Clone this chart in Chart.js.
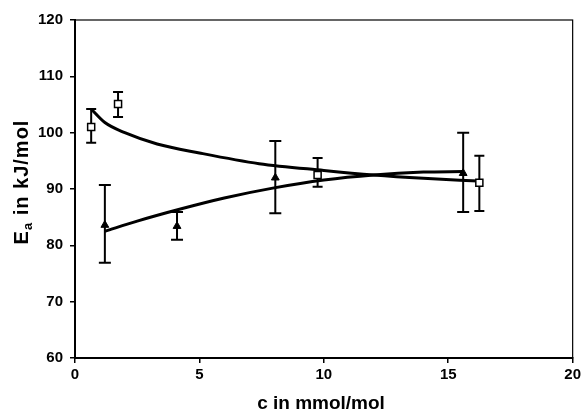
<!DOCTYPE html>
<html>
<head>
<meta charset="utf-8">
<script src="https://cdn.jsdelivr.net/npm/chart.js@4/dist/chart.umd.min.js"></script>
<style>
  html, body { margin: 0; padding: 0; background: #fff; }
  #wrap { width: 584px; height: 417px; }
</style>
</head>
<body>
<div id="wrap"><canvas id="eaChart"></canvas></div>
<script>
// Messpunkte (offene Quadrate)
const squareX = [0.65, 1.73, 9.75, 16.25];
const squareY = [101.0, 105.1, 92.5, 91.1];
const squareLow = [98.2, 102.8, 90.4, 86.1];
const squareHigh = [104.2, 107.2, 95.5, 95.9];

// Messpunkte (gefuellte Dreiecke)
const triX = [1.2, 4.1, 8.05, 15.6];
const triY = [83.6, 83.4, 92.0, 92.8];
const triLow = [76.9, 81.0, 85.7, 85.9];
const triHigh = [90.7, 85.9, 98.5, 100.0];

// Trendlinien
const squareFitX = [0.65, 1.2, 2.0, 3.3, 5, 7.4, 10, 12, 14, 16.2];
const squareFitY = [104.2, 101.8, 100.0, 98.0, 96.4, 94.5, 93.3, 92.5, 91.9, 91.4];
const triFitX = [1.2, 2.5, 4.2, 6, 8, 10, 12, 14, 15.6];
const triFitY = [82.5, 84.3, 86.4, 88.4, 90.2, 91.6, 92.5, 93.0, 93.1];

// Achsen
const xTicks = [0, 5, 10, 15, 20];
const yTicks = [60, 70, 80, 90, 100, 110, 120];
const xTitle = 'c in mmol/mol';
const yTitleMain = 'E';
const yTitleSub = 'a';
const yTitleRest = ' in kJ/mol';

const FONT = "'Liberation Sans', Arial, sans-serif";
const toPoints = (xs, ys) => xs.map((x, i) => ({ x, y: ys[i] }));

// Fehlerbalken zeichnen
const errorBars = {
  id: 'errorBars',
  beforeDatasetsDraw(chart) {
    const { ctx, scales: { x, y } } = chart;
    ctx.save();
    ctx.strokeStyle = '#000';
    ctx.lineWidth = 2;
    chart.data.datasets.forEach(ds => {
      if (!ds.errLow) return;
      ds.data.forEach((p, i) => {
        const px = x.getPixelForValue(p.x);
        const top = y.getPixelForValue(ds.errHigh[i]);
        const bot = y.getPixelForValue(ds.errLow[i]);
        ctx.beginPath();
        ctx.moveTo(px, top);
        ctx.lineTo(px, bot);
        ctx.moveTo(px - ds.capHalf, top);
        ctx.lineTo(px + ds.capHalf, top);
        ctx.moveTo(px - ds.capHalf, bot);
        ctx.lineTo(px + ds.capHalf, bot);
        ctx.stroke();
      });
    });
    ctx.restore();
  }
};

// Rahmen und Achsentitel
const frameAndTitles = {
  id: 'frameAndTitles',
  afterDraw(chart) {
    const { ctx, chartArea: a } = chart;
    ctx.save();
    ctx.strokeStyle = '#000';
    ctx.lineWidth = 1.2;
    ctx.strokeRect(a.left, a.top, a.right - a.left, a.bottom - a.top);

    ctx.fillStyle = '#000';
    ctx.textAlign = 'center';
    ctx.textBaseline = 'middle';
    ctx.font = 'bold 19px ' + FONT;
    ctx.fillText(xTitle, 321, 404);

    // y-Titel mit Index
    const big = 'bold 20px ' + FONT;
    const small = 'bold 13px ' + FONT;
    ctx.letterSpacing = '1px';
    ctx.font = big;
    const wE = ctx.measureText(yTitleMain).width;
    const wR = ctx.measureText(yTitleRest).width;
    ctx.font = small;
    const wA = ctx.measureText(yTitleSub).width;
    const total = wE + wA + wR;
    ctx.translate(28, 182);
    ctx.rotate(-Math.PI / 2);
    ctx.textAlign = 'left';
    ctx.textBaseline = 'alphabetic';
    let cx = -total / 2;
    ctx.font = big;
    ctx.fillText(yTitleMain, cx, 0);
    cx += wE;
    ctx.font = small;
    ctx.fillText(yTitleSub, cx, 4);
    cx += wA;
    ctx.font = big;
    ctx.fillText(yTitleRest, cx, 0);
    ctx.restore();
  }
};

const ctx = document.getElementById('eaChart').getContext('2d');
const eaChart = new Chart(ctx, {
  type: 'scatter',
  data: {
    datasets: [
      {
        label: 'squares',
        data: toPoints(squareX, squareY),
        errLow: squareLow,
        errHigh: squareHigh,
        capHalf: 5,
        pointStyle: 'rect',
        pointRadius: 5,
        pointBackgroundColor: '#fff',
        pointBorderColor: '#000',
        pointBorderWidth: 1.5,
        showLine: false,
        order: 0,
      },
      {
        label: 'triangles',
        data: toPoints(triX, triY),
        errLow: triLow,
        errHigh: triHigh,
        capHalf: 6,
        pointStyle: 'triangle',
        pointRadius: 4.5,
        pointBackgroundColor: '#000',
        pointBorderColor: '#000',
        pointBorderWidth: 1,
        showLine: false,
        order: 0,
      },
      {
        label: 'fit squares',
        data: toPoints(squareFitX, squareFitY),
        showLine: true,
        borderColor: '#000',
        borderWidth: 3,
        pointRadius: 0,
        cubicInterpolationMode: 'monotone',
        order: 1,
      },
      {
        label: 'fit triangles',
        data: toPoints(triFitX, triFitY),
        showLine: true,
        borderColor: '#000',
        borderWidth: 3,
        pointRadius: 0,
        cubicInterpolationMode: 'monotone',
        order: 1,
      },
    ]
  },
  options: {
    responsive: true,
    maintainAspectRatio: false,
    animation: false,
    layout: { padding: { top: 20, right: 11, left: 0, bottom: 0 } },
    plugins: {
      legend: { display: false },
      tooltip: { enabled: false },
    },
    scales: {
      x: {
        type: 'linear',
        min: 0,
        max: 20,
        afterBuildTicks: s => { s.ticks = xTicks.map(v => ({ value: v })); },
        afterFit: s => { s.height = 59; },
        grid: { drawOnChartArea: false, tickLength: 5, color: '#000', lineWidth: 1.5 },
        border: { color: '#000', width: 2 },
        ticks: { color: '#000', padding: 3, font: { family: FONT, size: 15, weight: 'bold' } },
      },
      y: {
        type: 'linear',
        min: 60,
        max: 120,
        afterBuildTicks: s => { s.ticks = yTicks.map(v => ({ value: v })); },
        afterFit: s => { s.width = 75; },
        grid: { drawOnChartArea: false, tickLength: 5, color: '#000', lineWidth: 1.5 },
        border: { color: '#000', width: 2 },
        ticks: { color: '#000', padding: 7, font: { family: FONT, size: 15, weight: 'bold' } },
      },
    },
  },
  plugins: [errorBars, frameAndTitles],
});
</script>
</body>
</html>
